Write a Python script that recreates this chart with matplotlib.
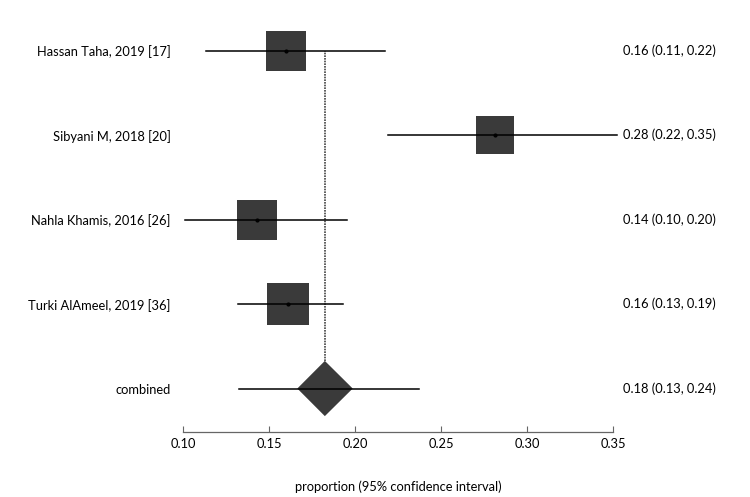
import numpy as np
import matplotlib.pyplot as plt
from matplotlib.patches import Polygon

plt.rcParams['font.family'] = ['Lato', 'DejaVu Sans']

# study estimates
studies = ['Hassan Taha, 2019 [17]', 'Sibyani M, 2018 [20]',
           'Nahla Khamis, 2016 [26]', 'Turki AlAmeel, 2019 [36]']
est = [0.160, 0.281, 0.143, 0.161]
lo = [0.113, 0.219, 0.101, 0.132]
hi = [0.217, 0.352, 0.195, 0.193]
weights = [24.0, 23.4, 24.7, 27.9]
ci_text = ['0.16 (0.11, 0.22)', '0.28 (0.22, 0.35)',
           '0.14 (0.10, 0.20)', '0.16 (0.13, 0.19)']

# pooled estimate
pooled_label = 'combined'
pooled_est = 0.1823
pooled_lo = 0.1326
pooled_hi = 0.2368
pooled_box_lo = 0.1663
pooled_box_hi = 0.1985
pooled_text = '0.18 (0.13, 0.24)'

xticks = [0.10, 0.15, 0.20, 0.25, 0.30, 0.35]

fig = plt.figure(figsize=(7.5, 4.97), dpi=100)
ax = fig.add_axes([0.2444, 0.1308, 0.5733, 0.852])

n = len(studies)
ypos = np.arange(n, 0, -1) + 1  # 5,4,3,2 ; combined at 1

box_col = '#3a3a3a'
fs = 9.3
for i in range(n):
    y = ypos[i]
    ax.plot([lo[i], hi[i]], [y, y], color='black', lw=1.1, zorder=3, clip_on=False)
    side = 8.0 * np.sqrt(weights[i]) * 0.72  # points
    ax.plot(est[i], y, marker='s', ms=side, color=box_col, mew=0, zorder=2, linestyle='none')
    ax.plot(est[i], y, marker='o', ms=2, color='black', zorder=4, linestyle='none')
    ax.text(1.022, y, ci_text[i], transform=ax.get_yaxis_transform(),
            ha='left', va='center', fontsize=fs, color='black')

# combined row
yc = 1
half_h = 0.327
ax.plot([pooled_lo, pooled_hi], [yc, yc], color='black', lw=1.1, zorder=3)
diamond = Polygon([[pooled_box_lo, yc], [pooled_est, yc + half_h],
                   [pooled_box_hi, yc], [pooled_est, yc - half_h]],
                  closed=True, facecolor=box_col, edgecolor='none', zorder=2)
ax.add_patch(diamond)
ax.text(1.022, yc, pooled_text, transform=ax.get_yaxis_transform(),
        ha='left', va='center', fontsize=fs, color='black')

# reference line at pooled estimate
ax.plot([pooled_est, pooled_est], [yc + half_h, ypos[0]], color='#444444',
        lw=1.2, linestyle=(0, (1, 0.6)), zorder=1)

ax.set_yticks(list(ypos) + [yc])
ax.set_yticklabels(studies + [pooled_label], fontsize=fs)
ax.tick_params(axis='y', length=0, pad=9)

ax.set_xlim(0.10, 0.35)
ax.set_ylim(0.485, 5.5)
ax.set_xticks(xticks)
ax.set_xticklabels(['%.2f' % t for t in xticks], fontsize=fs)
ax.tick_params(axis='x', direction='in', length=4, pad=4, color='#666666')

for s in ['top', 'right', 'left']:
    ax.spines[s].set_visible(False)
ax.spines['bottom'].set_color('#666666')
ax.spines['bottom'].set_linewidth(0.9)

ax.set_xlabel('proportion (95% confidence interval)', fontsize=fs, labelpad=22)

fig.savefig('out.png', dpi=100, facecolor='white')
